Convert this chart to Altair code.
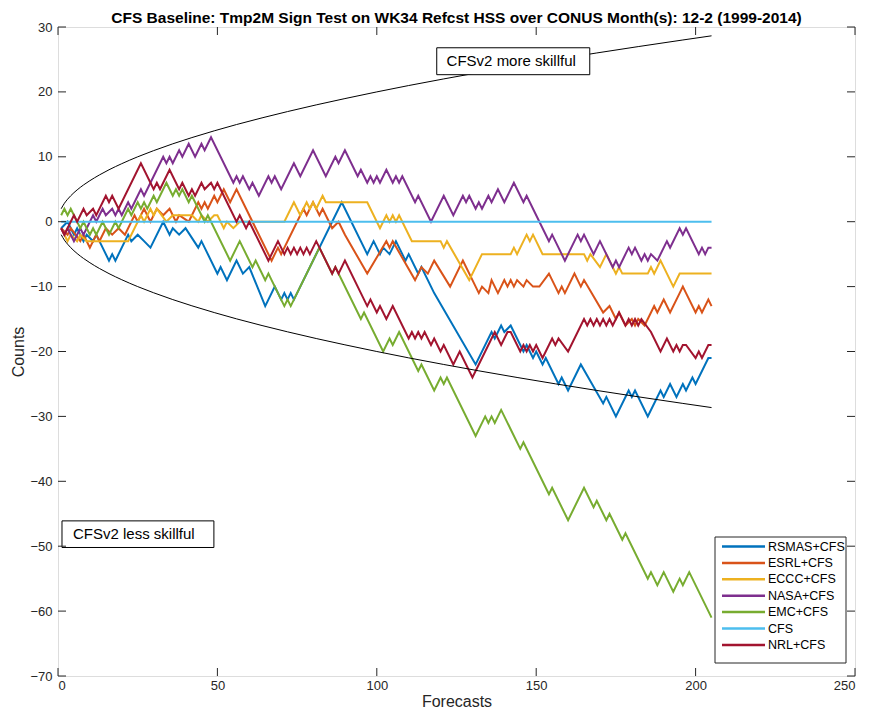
import altair as alt
import pandas as pd

FONT = "Liberation Sans"
AXC = "#262626"

TITLE = "CFS Baseline: Tmp2M Sign Test on WK34 Refcst HSS over CONUS Month(s): 12-2 (1999-2014)"
SERIES = ["RSMAS+CFS", "ESRL+CFS", "ECCC+CFS", "NASA+CFS", "EMC+CFS", "CFS", "NRL+CFS"]
COLORS = ["#0072BD", "#D95319", "#EDB120", "#7E2F8E", "#77AC30", "#4DBEEE", "#A2142F"]

X_TICKS = [0, 50, 100, 150, 200, 250]
Y_TICKS = [-70, -60, -50, -40, -30, -20, -10, 0, 10, 20, 30]

# turning points (forecast number, count)
RSMAS = [(1, -1), (3, 0), (5, -2), (6, -1), (8, -3), (9, -2), (11, -3), (12, -2), (16, -6), (17, -5),
         (18, -6), (22, -2), (23, -3), (25, -2), (27, -3), (29, -4), (33, 0), (35, -2), (36, -1),
         (38, -2), (40, -1), (44, -4), (45, -3), (50, -8), (51, -7), (53, -9), (56, -6), (58, -8),
         (60, -7), (65, -13), (68, -10), (70, -12), (71, -11), (72, -12), (73, -11), (74, -12),
         (89, 3), (97, -5), (99, -3), (101, -5), (102, -4), (104, -5), (106, -3), (109, -6),
         (110, -5), (113, -8), (114, -7), (118, -11), (131, -22), (136, -17), (137, -18),
         (139, -16), (140, -17), (142, -16), (146, -20), (147, -19), (149, -21), (150, -20),
         (152, -22), (153, -21), (157, -25), (158, -24), (160, -26), (164, -22), (171, -28),
         (172, -27), (175, -30), (179, -26), (180, -27), (181, -26), (185, -30), (189, -26),
         (190, -27), (192, -25), (194, -27), (196, -25), (197, -26), (199, -24), (200, -25),
         (204, -21), (205, -21)]
ESRL = [(1, -1), (3, -2), (4, -1), (7, -3), (8, -2), (10, -4), (12, -2), (13, -3), (15, -1), (17, -2),
        (19, -1), (21, -2), (24, 1), (25, 0), (27, 2), (29, 0), (31, 2), (33, 1), (35, 2), (37, 0),
        (38, 1), (41, 0), (44, 3), (45, 2), (46, 3), (47, 2), (49, 4), (50, 3), (52, 5), (54, 3),
        (56, 5), (59, 2), (67, -6), (69, -4), (70, -5), (77, 2), (78, 1), (80, 3), (82, 1), (83, 2),
        (86, -1), (88, 0), (90, -2), (97, -8), (103, -3), (104, -4), (105, -3), (112, -9), (114, -7),
        (116, -8), (118, -6), (123, -10), (127, -6), (132, -11), (133, -10), (135, -11), (136, -9),
        (138, -11), (140, -9), (141, -10), (142, -9), (143, -10), (144, -9), (146, -10), (147, -9),
        (149, -10), (151, -10), (154, -8), (157, -11), (158, -10), (159, -11), (162, -8), (164, -10),
        (165, -9), (171, -14), (173, -13), (175, -15), (176, -14), (178, -16), (180, -15), (181, -16),
        (182, -15), (184, -16), (187, -13), (188, -14), (190, -12), (192, -14), (195, -11), (196, -10),
        (197, -11), (200, -14), (201, -13), (202, -14), (204, -12), (205, -13)]
ECCC = [(1, -1), (3, -3), (4, -2), (6, -3), (7, -2), (9, -3), (22, -3), (26, 1), (27, 0), (29, 2),
        (30, 1), (31, 2), (34, 0), (36, 1), (42, 1), (44, 0), (45, 1), (47, 0), (49, 1), (50, 1),
        (52, -1), (53, 0), (55, -1), (57, 0), (71, 0), (74, 3), (76, 1), (78, 3), (79, 2), (80, 3),
        (81, 2), (83, 4), (84, 3), (97, 3), (101, -1), (103, 1), (104, 0), (105, 1), (106, 0),
        (107, 1), (111, -3), (120, -3), (121, -4), (122, -3), (129, -9), (133, -5), (142, -5),
        (143, -4), (144, -5), (147, -2), (148, -3), (149, -2), (152, -5), (165, -5), (166, -6),
        (167, -5), (170, -7), (172, -5), (175, -8), (176, -7), (177, -8), (185, -8), (186, -7),
        (187, -8), (189, -6), (193, -10), (195, -8), (205, -8)]
NASA = [(1, -1), (2, -2), (3, -1), (5, -3), (7, -1), (8, -2), (11, 1), (12, 0), (14, 2), (15, 1),
        (17, 2), (18, 1), (19, 2), (20, 1), (22, 3), (23, 2), (26, 5), (27, 4), (29, 6), (33, 10),
        (34, 9), (35, 10), (36, 9), (38, 11), (39, 10), (41, 12), (43, 10), (45, 12), (46, 11),
        (48, 13), (55, 6), (56, 7), (57, 6), (58, 7), (60, 5), (61, 6), (63, 4), (66, 7), (67, 6),
        (68, 7), (70, 5), (74, 9), (76, 7), (80, 11), (84, 7), (87, 10), (88, 9), (90, 11), (94, 7),
        (95, 8), (97, 6), (98, 7), (99, 6), (100, 7), (101, 6), (103, 8), (105, 6), (106, 7),
        (107, 6), (108, 7), (112, 3), (113, 4), (117, 0), (121, 4), (124, 1), (127, 4), (128, 3),
        (129, 4), (131, 2), (132, 3), (133, 2), (135, 4), (136, 3), (138, 5), (140, 3), (143, 6),
        (146, 3), (147, 4), (154, -3), (155, -2), (159, -6), (163, -2), (164, -3), (165, -2),
        (168, -5), (170, -3), (174, -7), (175, -6), (176, -7), (179, -4), (180, -5), (181, -4),
        (183, -6), (184, -5), (185, -6), (186, -5), (188, -6), (191, -3), (192, -4), (195, -1),
        (196, -2), (197, -1), (201, -5), (202, -4), (203, -5), (204, -4), (205, -4)]
EMC = [(1, 1), (2, 2), (3, 1), (4, 2), (7, -1), (8, 0), (10, -2), (11, -1), (12, -2), (14, 0),
       (16, -2), (18, 0), (19, -1), (22, 2), (23, 1), (25, 3), (26, 2), (27, 3), (28, 2), (30, 4),
       (31, 3), (34, 6), (36, 4), (37, 5), (38, 4), (39, 5), (41, 3), (42, 4), (46, 0), (47, 1),
       (54, -6), (57, -3), (61, -7), (62, -6), (65, -9), (66, -8), (67, -9), (71, -13), (72, -12),
       (73, -13), (82, -4), (86, -8), (87, -7), (95, -15), (96, -14), (102, -20), (104, -18),
       (105, -19), (107, -17), (113, -23), (114, -22), (118, -26), (120, -24), (121, -25),
       (122, -24), (131, -33), (134, -30), (135, -31), (136, -30), (137, -31), (139, -29),
       (145, -35), (146, -34), (154, -42), (155, -41), (160, -46), (165, -41), (168, -44),
       (169, -43), (172, -46), (173, -45), (177, -49), (178, -48), (185, -55), (186, -54),
       (188, -56), (190, -54), (193, -57), (195, -55), (196, -56), (198, -54), (205, -61)]
CFS = [(1, 0), (205, 0)]
NRL = [(1, -1), (2, -2), (5, 1), (6, 0), (8, 2), (9, 1), (11, 2), (12, 1), (15, 4), (16, 3),
       (17, 4), (19, 2), (26, 9), (30, 5), (31, 6), (32, 5), (35, 8), (38, 5), (39, 6), (41, 4),
       (42, 5), (43, 4), (45, 6), (46, 5), (48, 6), (49, 5), (50, 6), (51, 5), (56, 0), (57, 1),
       (59, -1), (60, 0), (66, -6), (69, -3), (71, -5), (72, -4), (73, -5), (74, -4), (75, -5),
       (76, -4), (77, -5), (78, -4), (79, -5), (81, -3), (86, -8), (87, -7), (88, -8), (90, -6),
       (97, -13), (98, -12), (100, -14), (101, -13), (103, -15), (105, -13), (110, -18),
       (111, -17), (112, -18), (113, -17), (114, -18), (115, -17), (117, -19), (118, -18),
       (120, -20), (121, -19), (124, -22), (126, -20), (130, -24), (137, -17), (139, -19),
       (141, -17), (142, -17), (145, -20), (146, -19), (147, -20), (148, -19), (149, -20),
       (150, -19), (152, -21), (155, -18), (156, -19), (157, -18), (160, -20), (165, -15),
       (166, -16), (167, -15), (168, -16), (169, -15), (170, -16), (171, -15), (172, -16),
       (173, -15), (174, -16), (176, -14), (177, -15), (178, -16), (179, -15), (180, -16),
       (181, -15), (182, -16), (183, -15), (186, -17), (189, -20), (191, -18), (193, -20),
       (194, -19), (195, -20), (196, -19), (197, -19), (200, -21), (201, -20), (202, -21),
       (204, -19), (205, -19)]

# significance bound (upper branch; lower branch is its mirror)
BOUND_N = [1, 2, 3, 4, 6, 8, 10, 13, 16, 20, 25, 30, 36, 42, 49, 56, 64, 72, 81, 90, 100,
           110, 121, 132, 144, 156, 169, 182, 196, 205]
BOUND_V = [2.00, 2.83, 3.46, 4.00, 4.90, 5.66, 6.32, 7.21, 8.00, 8.94, 10.00, 10.95, 12.00,
           12.96, 14.00, 14.97, 16.00, 16.97, 18.00, 18.97, 20.00, 20.98, 22.00, 22.98, 24.00,
           24.98, 26.00, 26.98, 28.00, 28.64]

NOTES = ["CFSv2 more skillful", "CFSv2 less skillful"]
NOTE_BOX = [(118.8, 166.8, 26.8, 22.65), (1.25, 48.9, -46.1, -50.2)]
NOTE_AT = [(121.9, 24.7), (4.7, -48.1)]

W, H = 797, 649
TL = 8
# legend box layout (pixels inside the plot area)
LEG_X0, LEG_X1, LEG_Y0, LEG_Y1 = 657, 788, 510, 636
LEG_ROW0, LEG_STEP = 519.5, 16.4
LEG_SYM0, LEG_SYM1, LEG_TXT = 664, 707, 710

xscale = alt.Scale(domain=[0, 250], nice=False, zero=False)
yscale = alt.Scale(domain=[-70, 30], nice=False, zero=False)
cscale = alt.Scale(domain=SERIES, range=COLORS)

XAX = alt.Axis(values=X_TICKS, ticks=False, domain=False, grid=False, title="Forecasts",
               labelFontSize=13, labelColor=AXC, labelPadding=3, labelFont=FONT,
               titleFont=FONT, titleFontSize=16, titleFontWeight="normal",
               titleColor=AXC, titlePadding=1)
YAX = alt.Axis(values=Y_TICKS, ticks=False, domain=False, grid=False, title="Counts",
               labelFontSize=13, labelColor=AXC, labelPadding=6, labelFont=FONT,
               titleFont=FONT, titleFontSize=16, titleFontWeight="normal",
               titleColor=AXC, titlePadding=3)
X = alt.X("x:Q", scale=xscale, axis=XAX)
Y = alt.Y("y:Q", scale=yscale, axis=YAX)

series_data = [RSMAS, ESRL, ECCC, NASA, EMC, CFS, NRL]
layers = []
for name, pts in zip(SERIES, series_data):
    df = pd.DataFrame(pts, columns=["x", "y"])
    df["series"] = name
    layers.append(
        alt.Chart(df).mark_line(strokeWidth=2, strokeJoin="miter").encode(
            x=X, y=Y, color=alt.Color("series:N", scale=cscale, legend=None))
    )

bdf = pd.concat([
    pd.DataFrame({"x": BOUND_N, "y": BOUND_V, "side": "upper"}),
    pd.DataFrame({"x": BOUND_N, "y": [-v for v in BOUND_V], "side": "lower"}),
])
bound = alt.Chart(bdf).mark_line(color="#000000", strokeWidth=1, interpolate="monotone").encode(
    x=X, y=Y, detail="side:N")

boxes = pd.DataFrame({"x": [b[0] for b in NOTE_BOX], "x2": [b[1] for b in NOTE_BOX],
                      "y": [b[2] for b in NOTE_BOX], "y2": [b[3] for b in NOTE_BOX]})
note_box = alt.Chart(boxes).mark_rect(fill="white", stroke="#000000", strokeWidth=1).encode(
    x=X, x2="x2:Q", y=Y, y2="y2:Q")
notes = pd.DataFrame({"x": [p[0] for p in NOTE_AT], "y": [p[1] for p in NOTE_AT], "t": NOTES})
note_txt = alt.Chart(notes).mark_text(align="left", baseline="middle", fontSize=15, font=FONT,
                                      color="#000000").encode(x=X, y=Y, text="t:N")

# axis ticks on all four sides, pointing inward
xt = pd.DataFrame({"x": X_TICKS})
yt = pd.DataFrame({"y": Y_TICKS})
xtick_b = alt.Chart(xt).mark_rule(color=AXC, strokeWidth=1).encode(
    x=X, y=alt.value(H), y2=alt.value(H - TL))
xtick_t = alt.Chart(xt).mark_rule(color=AXC, strokeWidth=1).encode(
    x=X, y=alt.value(0), y2=alt.value(TL))
ytick_l = alt.Chart(yt).mark_rule(color=AXC, strokeWidth=1).encode(
    y=Y, x=alt.value(0), x2=alt.value(TL))
ytick_r = alt.Chart(yt).mark_rule(color=AXC, strokeWidth=1).encode(
    y=Y, x=alt.value(W), x2=alt.value(W - TL))

# legend drawn as marks
ldf = pd.DataFrame({"series": SERIES, "i": list(range(len(SERIES)))})
leg_box = alt.Chart(pd.DataFrame({"k": [0]})).mark_rect(
    fill="white", stroke=AXC, strokeWidth=1).encode(
    x=alt.value(LEG_X0), x2=alt.value(LEG_X1), y=alt.value(LEG_Y0), y2=alt.value(LEG_Y1))
leg_base = alt.Chart(ldf).transform_calculate(py=f"{LEG_ROW0} + {LEG_STEP} * datum.i")
leg_sym = leg_base.mark_rule(strokeWidth=2.5).encode(
    x=alt.value(LEG_SYM0), x2=alt.value(LEG_SYM1),
    y=alt.Y("py:Q", scale=None, axis=None),
    color=alt.Color("series:N", scale=cscale, legend=None))
leg_txt = leg_base.mark_text(align="left", baseline="middle", fontSize=12.5, font=FONT,
                             color="#000000").encode(
    x=alt.value(LEG_TXT), y=alt.Y("py:Q", scale=None, axis=None), text="series:N")

chart = alt.layer(*layers, bound, note_box, note_txt, xtick_b, xtick_t, ytick_l, ytick_r,
                  leg_box, leg_sym, leg_txt).properties(
    width=W, height=H,
    title=alt.TitleParams(TITLE, fontSize=15.5, fontWeight="bold", font=FONT, anchor="middle",
                          offset=-5, color="#000000"),
    autosize=alt.AutoSizeParams(type="none"),
    padding={"left": 50, "top": 19, "right": 8, "bottom": 37},
).configure_view(stroke=AXC, strokeWidth=1).configure(background="white")

chart.save("out.html", embed_options={"renderer": "svg", "actions": False})
